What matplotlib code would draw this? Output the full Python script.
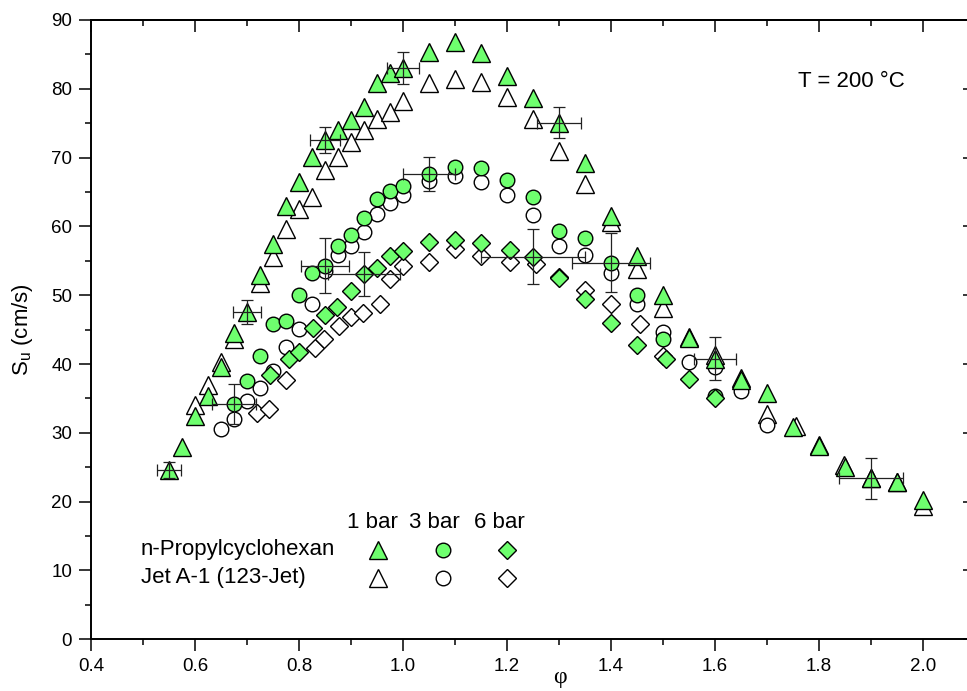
import matplotlib
matplotlib.use("Agg")
import matplotlib.pyplot as plt

plt.rcParams['font.family'] = ['Liberation Sans', 'DejaVu Sans']

# ---------------- data ----------------
# n-Propylcyclohexan, 1 bar
phi_npc_1 = [0.55, 0.575, 0.60, 0.625, 0.65, 0.675, 0.70, 0.725, 0.75, 0.775, 0.80, 0.825,
             0.85, 0.875, 0.90, 0.925, 0.95, 0.975, 1.00, 1.05, 1.10, 1.15, 1.20, 1.25,
             1.30, 1.35, 1.40, 1.45, 1.50, 1.55, 1.60, 1.65, 1.70, 1.75, 1.80, 1.85,
             1.90, 1.95, 2.00]
su_npc_1 = [24.6, 28.0, 32.4, 35.3, 39.6, 44.5, 47.5, 53.0, 57.4, 62.9, 66.5, 70.1,
            72.6, 74.0, 75.5, 77.4, 80.9, 82.3, 83.0, 85.3, 86.8, 85.2, 81.9, 78.6,
            75.1, 69.2, 61.5, 55.7, 50.0, 43.8, 40.8, 37.7, 35.8, 30.8, 28.1, 25.1,
            23.4, 22.9, 20.2]

# Jet A-1, 1 bar
phi_jet_1 = [0.60, 0.625, 0.65, 0.675, 0.725, 0.75, 0.775, 0.80, 0.825, 0.85, 0.875,
             0.90, 0.925, 0.95, 0.975, 1.00, 1.05, 1.10, 1.15, 1.20, 1.25, 1.30, 1.35,
             1.40, 1.45, 1.50, 1.55, 1.60, 1.65, 1.70, 1.755, 1.80, 1.848, 1.90, 1.95,
             2.00]
su_jet_1 = [34.1, 37.0, 40.3, 43.7, 51.8, 55.6, 59.6, 62.6, 64.3, 68.2, 70.1,
            72.3, 74.0, 75.6, 76.7, 78.2, 80.9, 81.4, 81.0, 78.8, 75.6, 71.0, 66.1,
            60.7, 53.8, 48.1, 44.0, 41.3, 38.0, 32.8, 31.0, 28.2, 25.4, 23.5, 22.9,
            19.4]

# n-Propylcyclohexan, 3 bar
phi_npc_3 = [0.675, 0.70, 0.725, 0.75, 0.775, 0.80, 0.825, 0.85, 0.875, 0.90, 0.925,
             0.95, 0.975, 1.00, 1.05, 1.10, 1.15, 1.20, 1.25, 1.30, 1.35, 1.40, 1.45,
             1.50, 1.60]
su_npc_3 = [34.2, 37.5, 41.2, 45.8, 46.2, 50.0, 53.2, 54.3, 57.2, 58.7, 61.2,
            64.0, 65.2, 65.9, 67.6, 68.7, 68.5, 66.8, 64.3, 59.4, 58.3, 54.7, 50.0,
            43.6, 35.4]

# Jet A-1, 3 bar
phi_jet_3 = [0.65, 0.675, 0.70, 0.725, 0.75, 0.775, 0.80, 0.825, 0.85, 0.875, 0.90,
             0.925, 0.95, 0.975, 1.00, 1.05, 1.10, 1.15, 1.20, 1.25, 1.30, 1.35, 1.40,
             1.45, 1.50, 1.55, 1.60, 1.65, 1.70]
su_jet_3 = [30.6, 32.0, 34.6, 36.5, 39.0, 42.5, 45.1, 48.8, 53.5, 55.9, 57.2,
            59.2, 61.8, 63.4, 64.6, 66.6, 67.3, 66.5, 64.6, 61.7, 57.2, 55.8, 53.3,
            48.8, 44.6, 40.3, 39.6, 36.1, 31.1]

# n-Propylcyclohexan, 6 bar
phi_npc_6 = [0.745, 0.78, 0.80, 0.827, 0.85, 0.873, 0.90, 0.925, 0.95, 0.975, 1.00,
             1.05, 1.10, 1.15, 1.205, 1.25, 1.30, 1.35, 1.40, 1.45, 1.505, 1.55, 1.60]
su_npc_6 = [38.4, 40.7, 41.7, 45.2, 47.2, 48.3, 50.6, 53.1, 53.9, 55.7, 56.5,
            57.8, 58.1, 57.6, 56.6, 55.6, 52.5, 49.4, 46.0, 42.8, 40.7, 37.8, 35.0]

# Jet A-1, 6 bar
phi_jet_6 = [0.72, 0.743, 0.775, 0.83, 0.848, 0.877, 0.90, 0.923, 0.955, 0.975, 1.00,
             1.05, 1.10, 1.15, 1.205, 1.255, 1.30, 1.35, 1.40, 1.455, 1.50]
su_jet_6 = [32.9, 33.5, 37.7, 42.4, 43.6, 45.6, 46.9, 47.4, 48.8, 52.3, 54.2,
            54.9, 56.7, 55.7, 54.9, 54.5, 52.7, 50.7, 48.7, 45.8, 41.1]

# error bars (n-Propylcyclohexan points)
err_phi = [0.55, 0.70, 0.85, 1.00, 1.30, 1.60, 1.90, 0.675, 0.85, 1.05, 1.40, 0.925, 1.25]
err_su = [24.6, 47.5, 72.6, 83.0, 75.1, 40.8, 23.4, 34.2, 54.3, 67.6, 54.7, 53.1, 55.6]
err_dphi = [0.023, 0.026, 0.029, 0.031, 0.043, 0.041, 0.062, 0.042, 0.046, 0.05, 0.075, 0.07, 0.10]
err_dsu = [1.1, 1.75, 1.9, 2.3, 2.2, 3.15, 3.0, 2.9, 4.0, 2.5, 4.3, 3.2, 4.0]

pressure_labels = ['1 bar', '3 bar', '6 bar']
fuel_labels = ['n-Propylcyclohexan', 'Jet A-1 (123-Jet)']
annotation = 'T = 200 °C'

# ---------------- styles ----------------
GREEN = '#6EFF6E'
tri = dict(marker='^', ms=13, mew=1.0, mec='black', ls='none')
cir = dict(marker='o', ms=10.5, mew=1.0, mec='black', ls='none')
dia = dict(marker='D', ms=9.5, mew=1.0, mec='black', ls='none')

fig = plt.figure(figsize=(9.67, 6.91), dpi=100)
ax = fig.add_axes([91 / 967, 1 - 639.3 / 691, 884 / 967, 619.3 / 691])

# open (Jet A-1) first, filled (n-Propylcyclohexan) on top
ax.plot(phi_jet_1, su_jet_1, mfc='white', zorder=3, **tri)
ax.plot(phi_jet_3, su_jet_3, mfc='white', zorder=3, **cir)
ax.plot(phi_jet_6, su_jet_6, mfc='white', zorder=3, **dia)
ax.plot(phi_npc_1, su_npc_1, mfc=GREEN, zorder=4, **tri)
ax.plot(phi_npc_3, su_npc_3, mfc=GREEN, zorder=4, **cir)
ax.plot(phi_npc_6, su_npc_6, mfc=GREEN, zorder=4, **dia)

ax.errorbar(err_phi, err_su, xerr=err_dphi, yerr=err_dsu, fmt='none',
            ecolor='#222222', elinewidth=0.9, capsize=4.3, capthick=0.9, zorder=5)

ax.set_xlim(0.4, 2.1)
ax.set_ylim(0, 90)
xt = [0.4, 0.6, 0.8, 1.0, 1.2, 1.4, 1.6, 1.8, 2.0]
xm = [0.5, 0.7, 0.9, 1.1, 1.3, 1.5, 1.7, 1.9, 2.1]
yt = list(range(0, 91, 10))
ym = list(range(5, 90, 10))
ax.set_xticks(xt)
ax.set_xticklabels([f'{v:.1f}' for v in xt])
ax.set_xticks(xm, minor=True)
ax.set_yticks(yt)
ax.set_yticks(ym, minor=True)

for s in ax.spines.values():
    s.set_linewidth(1.4)

ax.tick_params(which='major', direction='out', length=8.5, width=1.1, labelsize=13.5,
               top=False, right=False, pad=5)
ax.tick_params(which='minor', direction='out', length=4.3, width=1.1, top=False, right=False)

sec_x = ax.secondary_xaxis('top')
sec_x.set_xticks(xt)
sec_x.set_xticks(xm, minor=True)
sec_x.tick_params(which='major', direction='in', length=8.5, width=1.1, labeltop=False)
sec_x.tick_params(which='minor', direction='in', length=4.3, width=1.1)
sec_x.spines['top'].set_linewidth(1.4)

sec_y = ax.secondary_yaxis('right')
sec_y.set_yticks(yt)
sec_y.set_yticks(ym, minor=True)
sec_y.tick_params(which='major', direction='in', length=8.5, width=1.1, labelright=False)
sec_y.tick_params(which='minor', direction='in', length=4.3, width=1.1)

ax.set_xlabel('φ', family=['Liberation Serif', 'DejaVu Serif'], fontsize=17)
ax.xaxis.set_label_coords(0.5305, -0.061)
ax.xaxis.label.set_va('center')
ax.set_ylabel(r'$\mathregular{S_u}$ (cm/s)', fontsize=16)
ax.yaxis.set_label_coords(-0.077, 0.50)
ax.yaxis.label.set_va('center')

ax.text(0.80, 0.90, annotation, transform=ax.transAxes, fontsize=16, va='center', ha='left')

# manual legend
hx = [0.318, 0.388, 0.4615]
mx = [0.3247, 0.398, 0.4706]
for x, lab in zip(hx, pressure_labels):
    ax.text(x, 0.1878, lab, transform=ax.transAxes, fontsize=16, ha='center', va='center')
ax.text(0.0566, 0.1442, fuel_labels[0], transform=ax.transAxes, fontsize=16, va='center')
ax.text(0.0566, 0.099, fuel_labels[1], transform=ax.transAxes, fontsize=16, va='center')
for x, st in zip(mx, [tri, cir, dia]):
    ax.plot([x], [0.1442], transform=ax.transAxes, mfc=GREEN, clip_on=False, zorder=6, **st)
    ax.plot([x], [0.099], transform=ax.transAxes, mfc='white', clip_on=False, zorder=6, **st)

fig.savefig('out.png', dpi=100)
